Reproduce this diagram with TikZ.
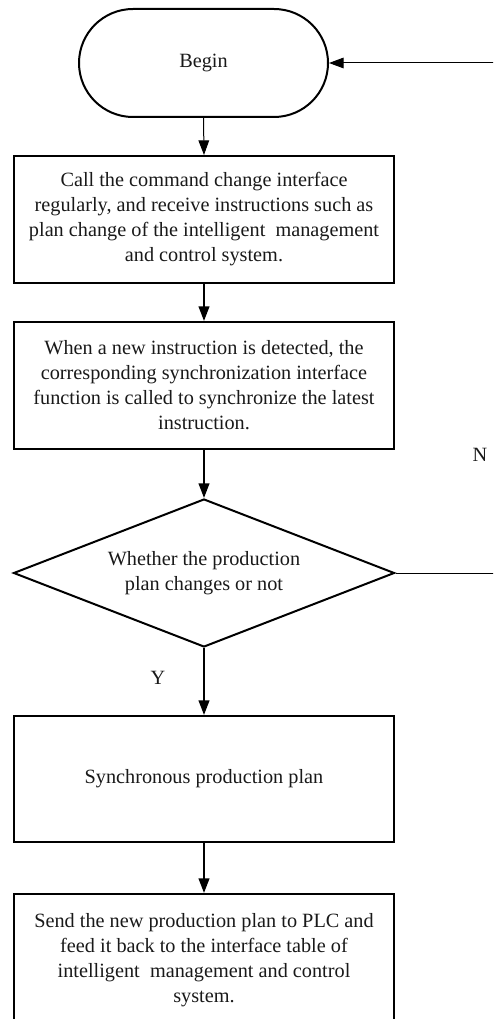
\documentclass[tikz,border=0pt]{standalone}
\usepackage{fontspec}
\setmainfont{Liberation Serif}
\usetikzlibrary{shapes.geometric,shapes.misc,arrows.meta}

\begin{document}
\begin{tikzpicture}[x=0.75pt,y=-0.75pt,
  font=\fontsize{15.2}{18.75}\selectfont,
  every node/.style={text=black!90},
  procbox/.style={draw, line width=1.5pt, rectangle, align=center,
    minimum width=285pt, inner sep=0pt},
  termbox/.style={draw, line width=1.5pt, rounded rectangle,
    minimum width=186.75pt, minimum height=81pt, inner sep=0pt},
  decbox/.style={draw, line width=1.5pt, diamond, aspect=2.57, align=center,
    minimum width=285.75pt, minimum height=111pt, inner sep=0pt},
  flow/.style={line width=1.5pt, -{Triangle[length=11pt,width=8pt]}},
  thinflow/.style={line width=0.75pt, -{Triangle[length=11pt,width=8pt]}},
  back/.style={line width=0.75pt},
  lbl/.style={inner sep=0pt}]

\useasboundingbox (0,0) rectangle (493,1019);
\clip (0,0) rectangle (493,1019);

% flowchart steps
\node[termbox] (begin) at (203.5,63) {Begin};

\node[procbox, minimum height=95.25pt] (call) at (204,219.5)
  {Call the command change interface\\
   regularly, and receive instructions such as\\
   plan change of the intelligent~ management\\
   and control system.};

\node[procbox, minimum height=95.25pt] (sync) at (204,385.5)
  {When a new instruction is detected, the\\
   corresponding synchronization interface\\
   function is called to synchronize the latest\\
   instruction.};

\node[decbox] (check) at (204,573)
  {Whether the production\\ plan changes or not};

\node[procbox, minimum height=94.5pt] (plan) at (204,779)
  {Synchronous production plan};

\node[procbox, minimum height=99pt] (send) at (204,960)
  {Send the new production plan to PLC and\\
   feed it back to the interface table of\\
   intelligent~ management and control\\
   system.};

% branch labels
\node[lbl] (ylab) at (158,678) {Y};
\node[lbl] (nlab) at (480,455) {N};

% main flow
\draw[thinflow] (begin.south) -- (call.north);
\draw[flow] (call.south) -- (sync.north);
\draw[flow] (sync.south) -- (check.north);
\draw[flow] (check.south) -- (plan.north);
\draw[flow] (plan.south) -- (send.north);

% loop back when the plan is unchanged
\coordinate (loopdown) at (510,573);
\coordinate (loopup) at (510,63);
\draw[back] (check.east) -- (loopdown) -- (loopup);
\draw[thinflow] (loopup) -- (begin.east);

\end{tikzpicture}
\end{document}
